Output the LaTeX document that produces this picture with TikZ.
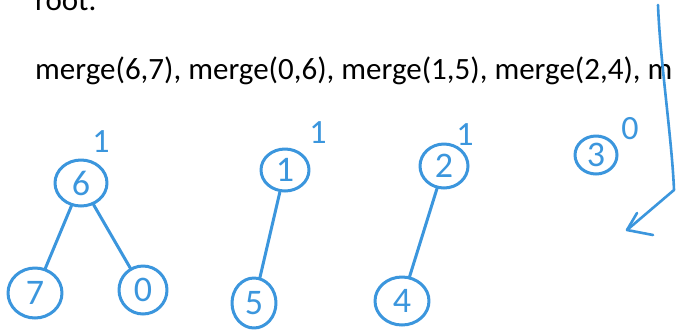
\documentclass[tikz,border=0pt]{standalone}
\usepackage{fontspec}
\setmainfont{Carlito}
\usetikzlibrary{shapes.geometric}
\definecolor{ink}{RGB}{59,150,221}
\tikzset{
  pen/.style={draw=ink, line width=3pt, line cap=round, line join=round},
  vtx/.style={pen, ellipse, inner sep=0pt, text=ink, font=\fontsize{36}{36}\selectfont},
  rk/.style={text=ink, font=\fontsize{34}{34}\selectfont, inner sep=0pt},
  txt/.style={anchor=base west, inner sep=0pt, font=\fontsize{31}{31}\selectfont}
}
\begin{document}
\begin{tikzpicture}[x=1pt,y=-1pt]
\useasboundingbox (0,0) rectangle (676,330);
\clip (0,0) rectangle (676,330);
\fill[white] (0,0) rectangle (676,330);
% text
\node[txt] (troot) at (35,10) {root.};
\node[txt] (tmerge) at (35,79) {merge(6,7), merge(0,6), merge(1,5), merge(2,4), m};
% trees
\node[vtx, minimum width=52pt, minimum height=46pt] (n6) at (81,183) {6};
\node[vtx, minimum width=54pt, minimum height=50pt] (n7) at (35,293) {7};
\node[vtx, minimum width=48pt, minimum height=48pt] (n0) at (143,290) {0};
\node[vtx, minimum width=48pt, minimum height=42pt] (n1) at (285,170) {1};
\node[vtx, minimum width=44pt, minimum height=50pt] (n5) at (254,303) {5};
\node[vtx, minimum width=48pt, minimum height=44pt] (n2) at (444,166) {2};
\node[vtx, minimum width=54pt, minimum height=48pt] (n4) at (402,301) {4};
\node[vtx, minimum width=42pt, minimum height=38pt] (n3) at (596,155) {3};
% rank labels
\node[rk] (r6) at (101,142) {1};
\node[rk] (r1) at (318,133) {1};
\node[rk] (r2) at (465,135) {1};
\node[rk] (r3) at (630,129) {0};
% edges
\draw[pen] (n6) -- (n7);
\draw[pen] (n6) -- (n0);
\draw[pen] (n1) -- (n5);
\draw[pen] (n2) -- (n4);
% arrow
\coordinate (a0) at (658,5);
\coordinate (a2) at (674,190);
\coordinate (tip) at (627,230);
\coordinate (b1) at (637,213);
\coordinate (b2) at (653,235);
\draw[pen, line width=2.6pt] (a0) .. controls (660,60) and (672,140) .. (a2) -- (tip);
\draw[pen, line width=2.6pt] (b1) -- (tip) -- (b2);
\end{tikzpicture}
\end{document}
